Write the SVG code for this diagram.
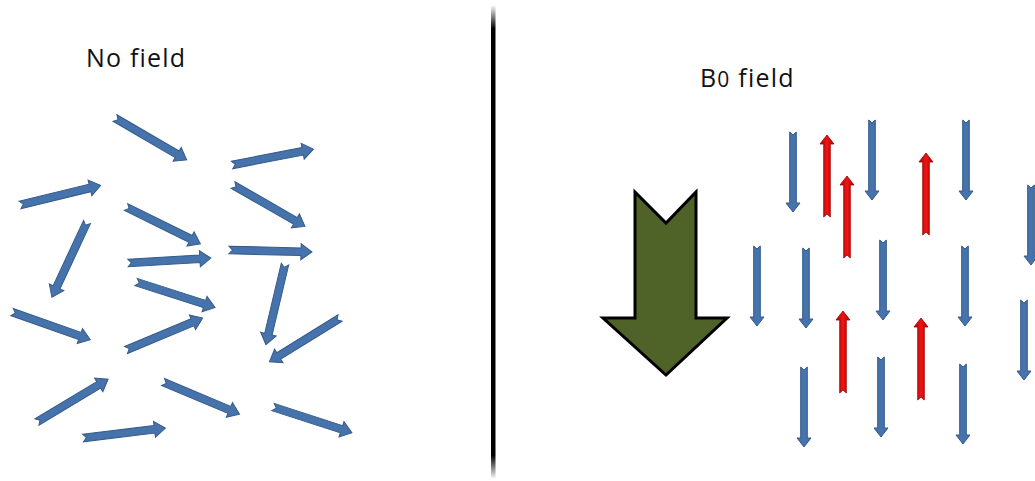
<svg xmlns="http://www.w3.org/2000/svg" xmlns:xlink="http://www.w3.org/1999/xlink" width="1035" height="481" viewBox="0 0 1035 481">
  <style>
    .lbl { font-family: "Open Sans", "Liberation Sans", sans-serif; font-size: 25px; fill: #111; letter-spacing: 1.2px; }
    .blue { fill: #4673ab; stroke: #345b8a; stroke-width: 1; }
    .red { fill: url(#redg); stroke: #9a0000; stroke-width: 0.8; }
    .field { fill: #4f6228; stroke: #000; stroke-width: 3; stroke-linejoin: miter; }
  </style>
  <defs>
    <linearGradient id="redg" x1="0" y1="0" x2="1" y2="0">
      <stop offset="0" stop-color="#b00000"/>
      <stop offset="0.5" stop-color="#ee1515"/>
      <stop offset="1" stop-color="#b00000"/>
    </linearGradient>
    <linearGradient id="divg" x1="0" y1="0" x2="0" y2="1">
      <stop offset="0" stop-color="#000" stop-opacity="0"/>
      <stop offset="0.05" stop-color="#000" stop-opacity="1"/>
      <stop offset="0.95" stop-color="#000" stop-opacity="1"/>
      <stop offset="1" stop-color="#000" stop-opacity="0"/>
    </linearGradient>
    <path id="sp" class="blue" d="M0,-3.8 L72,-3.8 L72,-8 L83,0 L72,8 L72,3.8 L0,3.8 L3.5,0 Z"/>
    <path id="dn" class="blue" d="M-3.3,0 L0,3 L3.3,0 L3.3,71 L7,71 L0,80 L-7,71 L-3.3,71 Z"/>
    <path id="up" class="red" d="M0,0 L7,9 L3.3,9 L3.3,82 L0,79 L-3.3,82 L-3.3,9 L-7,9 Z"/>
  </defs>
  <rect width="1035" height="481" fill="#ffffff"/>
  <rect id="divider" x="491" y="5" width="4.5" height="474" fill="url(#divg)"/>
  <g id="labels">
    <text class="lbl" x="86" y="67">No field</text>
    <text class="lbl" x="700" y="87">B<tspan font-size="21">0</tspan> field</text>
  </g>
  <g id="random-spins">
    <use xlink:href="#sp" transform="translate(115,118) rotate(30.3)"/>
    <use xlink:href="#sp" transform="translate(232,165) rotate(-11)"/>
    <use xlink:href="#sp" transform="translate(20,205) rotate(-13.7)"/>
    <use xlink:href="#sp" transform="translate(126,207) rotate(26.3)"/>
    <use xlink:href="#sp" transform="translate(233,185) rotate(29.9)"/>
    <use xlink:href="#sp" transform="translate(87,222) rotate(115)"/>
    <use xlink:href="#sp" transform="translate(128,263) rotate(-3.4)"/>
    <use xlink:href="#sp" transform="translate(229,250) rotate(1.4)"/>
    <use xlink:href="#sp" transform="translate(136,282) rotate(17.8)"/>
    <use xlink:href="#sp" transform="translate(285,264) rotate(103.3)"/>
    <use xlink:href="#sp" transform="translate(12,312) rotate(19.5)"/>
    <use xlink:href="#sp" transform="translate(126,350) rotate(-22.6)"/>
    <use xlink:href="#sp" transform="translate(340,318) rotate(148.2)"/>
    <use xlink:href="#sp" transform="translate(37,422) rotate(-31)"/>
    <use xlink:href="#sp" transform="translate(163,382) rotate(22.8)"/>
    <use xlink:href="#sp" transform="translate(273,407) rotate(18)"/>
    <use xlink:href="#sp" transform="translate(83,438) rotate(-6.9)"/>
  </g>
  <g id="b0-arrow">
    <polygon class="field" points="635,192 666,223 696,192 696,318 727,318 666,375 603,318 635,318"/>
  </g>
  <g id="aligned-spins">
    <use xlink:href="#dn" transform="translate(793,132)"/>
    <use xlink:href="#dn" transform="translate(872,120)"/>
    <use xlink:href="#dn" transform="translate(966,120)"/>
    <use xlink:href="#dn" transform="translate(1031,185)"/>
    <use xlink:href="#dn" transform="translate(757,246)"/>
    <use xlink:href="#dn" transform="translate(806,248)"/>
    <use xlink:href="#dn" transform="translate(883,240)"/>
    <use xlink:href="#dn" transform="translate(965,246)"/>
    <use xlink:href="#dn" transform="translate(1024,300)"/>
    <use xlink:href="#dn" transform="translate(804,367)"/>
    <use xlink:href="#dn" transform="translate(881,357)"/>
    <use xlink:href="#dn" transform="translate(963,364)"/>
    <use xlink:href="#up" transform="translate(827,135)"/>
    <use xlink:href="#up" transform="translate(847,176)"/>
    <use xlink:href="#up" transform="translate(926,153)"/>
    <use xlink:href="#up" transform="translate(843,311)"/>
    <use xlink:href="#up" transform="translate(921,318)"/>
  </g>
</svg>
